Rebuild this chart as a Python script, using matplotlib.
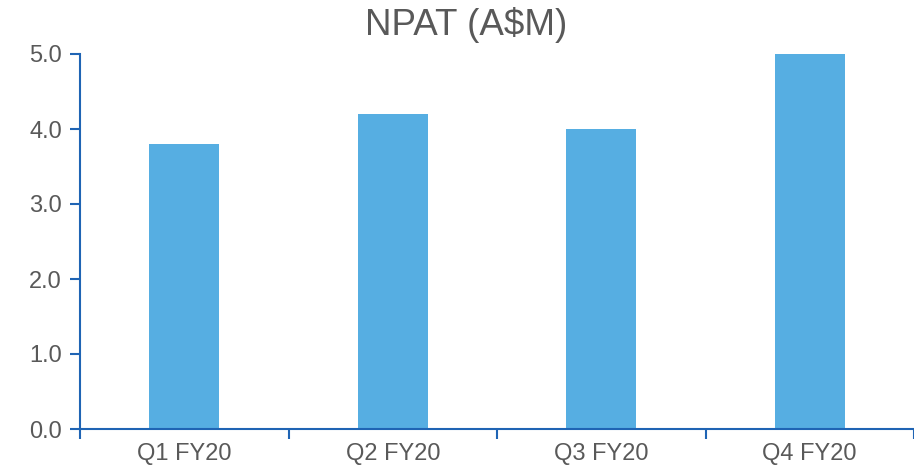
import matplotlib
matplotlib.use("Agg")
import matplotlib.pyplot as plt
from matplotlib.ticker import FixedLocator

categories = ["Q1 FY20", "Q2 FY20", "Q3 FY20", "Q4 FY20"]
npat = [3.8, 4.2, 4.0, 5.0]
yticks = [0.0, 1.0, 2.0, 3.0, 4.0, 5.0]

plt.rcParams['font.family'] = ['Liberation Sans', 'DejaVu Sans']

axis_color = "#1F64B4"
bar_color = "#56AEE2"
text_color = "#595959"

fig = plt.figure(figsize=(9.14, 4.72), dpi=100)
ax = fig.add_axes([80/914, 43/472, 834/914, 375/472])

x = list(range(len(categories)))
ax.bar(x, npat, width=0.336, color=bar_color, zorder=2)

ax.set_xlim(-0.5, len(categories) - 0.5)
ax.set_ylim(0, 5.0)
ax.set_yticks(yticks)
ax.set_yticklabels([f"{v:.1f}" for v in yticks])
ax.set_xticks(x)
ax.set_xticklabels(categories)
ax.xaxis.set_minor_locator(FixedLocator([i - 0.5 for i in range(len(categories) + 1)]))

for s in ["top", "right"]:
    ax.spines[s].set_visible(False)
for s in ["left", "bottom"]:
    ax.spines[s].set_color(axis_color)
    ax.spines[s].set_linewidth(1.5)

ax.tick_params(axis="y", colors=axis_color, labelcolor=text_color, labelsize=17,
               length=7, width=1.5, direction="out", pad=6)
ax.tick_params(axis="x", which="major", length=0, labelcolor=text_color, labelsize=17, pad=10)
ax.tick_params(axis="x", which="minor", colors=axis_color, length=7, width=1.5, direction="out")

fig.text(466/914, 1 - 25/472, r"NPAT (A\$M)", ha="center", va="center",
         fontsize=26.5, color=text_color)

fig.savefig("out.png", dpi=100)
